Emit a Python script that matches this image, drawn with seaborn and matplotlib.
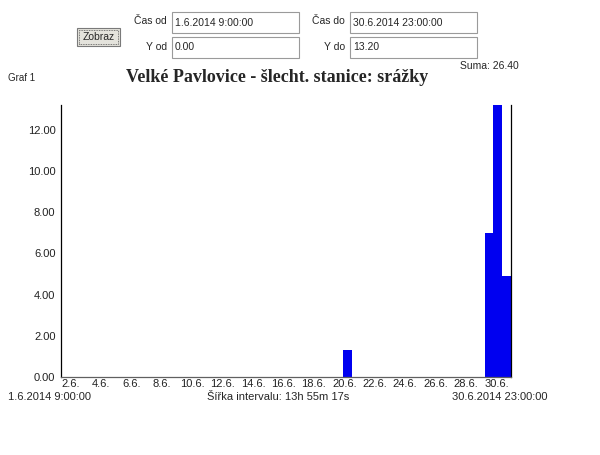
import numpy as np
import pandas as pd
import matplotlib
matplotlib.use("Agg")
import matplotlib.pyplot as plt
import matplotlib.dates as mdates
from matplotlib.patches import Rectangle
import seaborn as sns

# interval sums of precipitation (only non-empty intervals), start of each interval
rain_starts = ["2014-06-19 22:29:04", "2014-06-29 05:13:36", "2014-06-29 19:08:53", "2014-06-30 09:04:10"]
rain_mm = [1.3, 7.0, 13.2, 4.9]

t_from = "2014-06-01 09:00:00"
t_to = "2014-06-30 23:00:00"
interval_s = 13 * 3600 + 55 * 60 + 17
y_from, y_to = 0.0, 13.2

tick_days = [2, 4, 6, 8, 10, 12, 14, 16, 18, 20, 22, 24, 26, 28, 30]
tick_labels = [f"{d}.6." for d in tick_days]
y_ticks = [0, 2, 4, 6, 8, 10, 12]

sns.set_style("white")
plt.rcParams["font.family"] = ["Liberation Sans", "DejaVu Sans"]

W, H = 600, 455
fig = plt.figure(figsize=(W / 100, H / 100), dpi=100)


def fx(x):
    return x / W


def fy(y):
    return 1 - y / H


def box(x0, y0, x1, y1, text, face="white", edge="#9a9a9a", align="left"):
    fig.patches.append(Rectangle((fx(x0), fy(y1)), fx(x1 - x0), (y1 - y0) / H,
                                 transform=fig.transFigure, facecolor=face, edgecolor=edge, lw=0.8))
    if align == "left":
        fig.text(fx(x0 + 3), fy((y0 + y1) / 2), text, fontsize=7.5, va="center", ha="left")
    else:
        fig.text(fx((x0 + x1) / 2), fy((y0 + y1) / 2), text, fontsize=7.5, va="center", ha="center")


# form controls on top
box(77, 28, 120, 46, "Zobraz", face="#e4e3dc", edge="#7a7a7a", align="center")
fig.patches.append(Rectangle((fx(79), fy(44)), fx(39), 14 / H, transform=fig.transFigure,
                             facecolor="none", edgecolor="#555555", lw=0.6, ls=(0, (1, 1))))
fig.text(fx(167), fy(21), "Čas od", fontsize=7.5, ha="right", va="center")
fig.text(fx(167), fy(47), "Y od", fontsize=7.5, ha="right", va="center")
fig.text(fx(345), fy(21), "Čas do", fontsize=7.5, ha="right", va="center")
fig.text(fx(345), fy(47), "Y do", fontsize=7.5, ha="right", va="center")
box(172, 12, 299, 33, "1.6.2014 9:00:00")
box(172, 37, 299, 58, f"{y_from:.2f}")
box(350, 12, 477, 33, "30.6.2014 23:00:00")
box(350, 37, 477, 58, f"{y_to:.2f}")

fig.text(fx(519), fy(66), f"Suma: {sum(rain_mm):.2f}", fontsize=7.5, ha="right", va="center")
fig.text(fx(8), fy(78), "Graf 1", fontsize=7, ha="left", va="center")
fig.text(fx(277), fy(78), "Velké Pavlovice - šlecht. stanice: srážky", fontsize=13,
         fontweight="bold", family=["Liberation Serif", "DejaVu Serif"], ha="center", va="center")

# chart
ax = fig.add_axes([fx(61), 78 / H, fx(450), 272 / H])
start = pd.Timestamp(t_from)
end = pd.Timestamp(t_to)
n_bins = int(round((end - start).total_seconds() / interval_s))
edges = [float(v) for v in mdates.date2num([start + pd.Timedelta(seconds=interval_s * k) for k in range(n_bins + 1)])]

df = pd.DataFrame({"t": mdates.date2num(pd.to_datetime(rain_starts)) + 1e-6, "mm": rain_mm})
sns.histplot(data=df, x="t", weights="mm", bins=edges, color="#0000f0", alpha=1,
             linewidth=0, ax=ax)

ax.set_xlim(mdates.date2num(start), mdates.date2num(end))
ax.set_ylim(y_from, y_to)
ax.set_xticks(mdates.date2num([pd.Timestamp(2014, 6, d) for d in tick_days]))
ax.set_xticklabels(tick_labels)
ax.set_yticks(y_ticks)
ax.set_yticklabels([f"{v:.2f}" for v in y_ticks])
ax.set_xlabel("")
ax.set_ylabel("")
ax.tick_params(axis="both", direction="inout", length=6, width=0.8, labelsize=8,
               colors="#333333", labelcolor="#222222")
ax.tick_params(axis="x", pad=-1.5)
ax.tick_params(axis="y", pad=1)
ax.spines["top"].set_visible(False)
ax.spines["right"].set_visible(True)
ax.spines["right"].set_color("black")
ax.spines["right"].set_linewidth(0.9)
ax.spines["left"].set_color("black")
ax.spines["left"].set_linewidth(0.9)
ax.spines["bottom"].set_color("#606060")
ax.spines["bottom"].set_linewidth(0.9)

fig.text(fx(8), fy(397), "1.6.2014 9:00:00", fontsize=8, ha="left", va="center")
fig.text(fx(278), fy(397), "Šířka intervalu: 13h 55m 17s", fontsize=8, ha="center", va="center")
fig.text(fx(500), fy(397), "30.6.2014 23:00:00", fontsize=8, ha="center", va="center")

fig.savefig("out.png", dpi=100, facecolor="white")
